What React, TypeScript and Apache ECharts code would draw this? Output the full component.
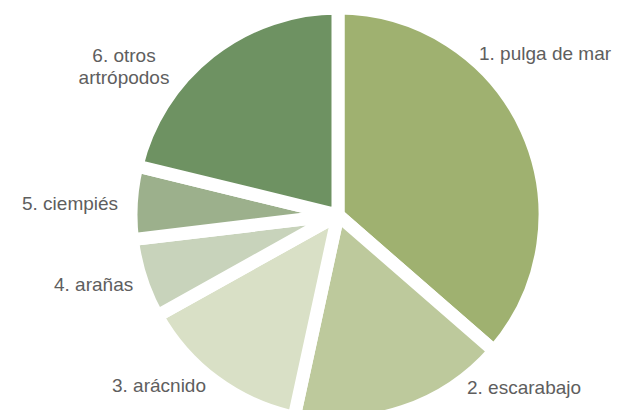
import React, { useEffect, useRef } from "react";
import * as echarts from "echarts";

const categories = [
  "1. pulga de mar",
  "2. escarabajo",
  "3. arácnido",
  "4. arañas",
  "5. ciempiés",
  "6. otros\nartrópodos",
];
const values = [36.4, 17.0, 13.5, 6.2, 5.7, 21.2];
const colors = ["#9fb170", "#bdc99c", "#d9e0c6", "#c8d3bb", "#9cb08c", "#6e9262"];

// label anchor layout (x, y, align)
const labelLayoutPos: [number, number, string][] = [
  [479, 53, "left"],
  [467, 387, "left"],
  [112, 385, "left"],
  [54, 284, "left"],
  [22, 203, "left"],
  [124, 66, "center"],
];

export default function App() {
  const ref = useRef<HTMLDivElement>(null);
  useEffect(() => {
    document.body.style.margin = "0";
    const chart = echarts.init(ref.current!, undefined, { renderer: "svg" });
    chart.setOption({
      animation: false,
      backgroundColor: "#ffffff",
      series: [
        {
          type: "pie",
          center: [338, 215],
          radius: 207,
          startAngle: 90,
          clockwise: true,
          avoidLabelOverlap: false,
          itemStyle: { borderColor: "#ffffff", borderWidth: 13 },
          label: {
            show: true,
            position: "outside",
            formatter: "{b}",
            color: "#5e5e5e",
            fontSize: 19,
            lineHeight: 22,
            fontFamily: "Liberation Sans, Arial, sans-serif",
          },
          labelLine: { show: false },
          labelLayout: (p: any) => {
            const pos = labelLayoutPos[p.dataIndex];
            return { x: pos[0], y: pos[1], align: pos[2], verticalAlign: "middle" };
          },
          emphasis: { disabled: true },
          data: categories.map((c, i) => ({
            name: c,
            value: values[i],
            itemStyle: { color: colors[i] },
          })),
        },
      ],
    });
    return () => chart.dispose();
  }, []);
  return (
    <div
      ref={ref}
      style={{ position: "fixed", left: 0, top: 0, width: 618, height: 410 }}
    />
  );
}
